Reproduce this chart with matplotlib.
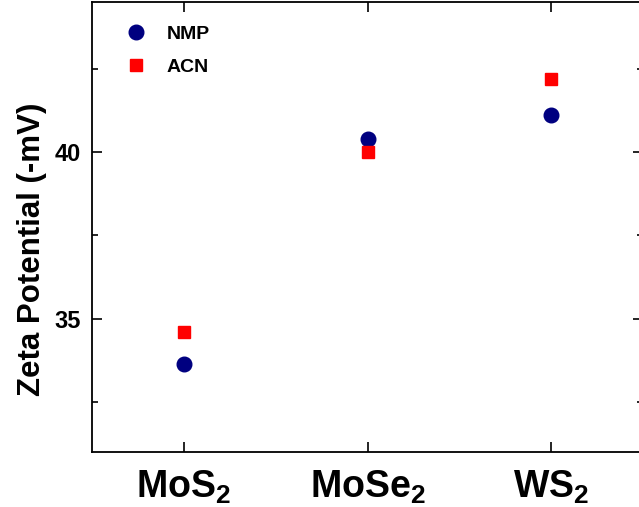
import matplotlib
matplotlib.use("Agg")
import matplotlib.pyplot as plt
from matplotlib.ticker import MultipleLocator

plt.rcParams["font.family"] = ["Liberation Sans", "DejaVu Sans"]
plt.rcParams["font.weight"] = "bold"
plt.rcParams["mathtext.fontset"] = "custom"
plt.rcParams["mathtext.rm"] = "Liberation Sans:bold"
plt.rcParams["mathtext.default"] = "rm"

materials = ["MoS$_2$", "MoSe$_2$", "WS$_2$"]
nmp = [33.65, 40.40, 41.10]
acn = [34.61, 40.01, 42.19]

fig = plt.figure(figsize=(6.39, 5.07), dpi=100)
W, H = 639, 507
ax = fig.add_axes([92 / W, 1 - 452 / H, 551 / W, 450 / H])

x = list(range(1, len(materials) + 1))
ax.plot(x, nmp, "o", color="#000080", markersize=10.5, label="NMP", linestyle="none")
ax.plot(x, acn, "s", color="#ff0000", markersize=8.5, label="ACN", linestyle="none")

ax.set_xlim(0.5, 3.5)
ax.set_ylim(31.0, 44.5)
ax.set_xticks(x)
ax.set_xticklabels(materials, fontsize=27)
ax.yaxis.set_major_locator(MultipleLocator(5))
ax.yaxis.set_minor_locator(MultipleLocator(2.5))
ax.tick_params(axis="both", which="both", direction="in", top=True, right=True)
ax.tick_params(axis="y", which="major", length=7, width=1.2, labelsize=17, pad=8)
ax.tick_params(axis="y", which="minor", length=4, width=1.2)
ax.tick_params(axis="x", which="major", length=7, width=1.2, pad=12)
for sp in ax.spines.values():
    sp.set_linewidth(1.3)

ax.set_ylabel("Zeta Potential (-mV)", fontsize=22.5, fontweight="bold")
ax.yaxis.set_label_coords(-0.082, 0.451)

ax.legend(loc="upper left", frameon=False, fontsize=14, handletextpad=0.6,
          borderaxespad=0.0, labelspacing=0.8, bbox_to_anchor=(0.03, 0.966))

fig.savefig("out.png", dpi=100)
